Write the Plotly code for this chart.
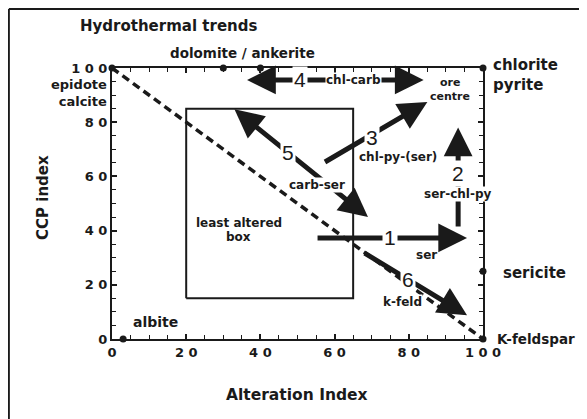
import plotly.graph_objects as go

# ---- data ----
x_ticks = [0, 20, 40, 60, 80, 100]
x_tick_labels = ["0", "2 0", "4 0", "6 0", "8 0", "1 0 0"]
y_ticks = [0, 20, 40, 60, 80, 100]
y_tick_labels = ["0", "2 0", "4 0", "6 0", "8 0", "1 0 0"]

end_member_x = [0, 30, 40, 100, 100, 3, 100]
end_member_y = [100, 100, 100, 100, 25, 0, 0]

box_x = [20, 65, 65, 20, 20]
box_y = [15, 15, 85, 85, 15]

diag_x = [0, 100]
diag_y = [100, 0]

trend_ids = ["1", "2", "3", "4", "5", "6"]
trend_names = ["ser", "ser-chl-py", "chl-py-(ser)", "chl-carb", "carb-ser", "k-feld"]
trend_x0 = [55, 93.3, 57, 36, 32.6, 67.7]
trend_y0 = [37.3, 41, 65, 95.6, 85.2, 32]
trend_x1 = [95.7, 93.3, 85, 84, 69, 95.7]
trend_y1 = [37.3, 78, 87.5, 95.6, 45, 8.8]
trend_both_ends = [False, False, False, True, True, False]

FONT = "DejaVu Sans"
NUMFONT = "Liberation Sans"
INK = "#1a1a1a"

fig = go.Figure()

# dashed diagonal
fig.add_trace(go.Scatter(x=diag_x, y=diag_y, mode="lines",
                         line=dict(color=INK, width=3.5, dash="8px,5px"),
                         hoverinfo="skip", showlegend=False))
# least altered box
fig.add_trace(go.Scatter(x=box_x, y=box_y, mode="lines",
                         line=dict(color=INK, width=2),
                         hoverinfo="skip", showlegend=False))
# end-member points
fig.add_trace(go.Scatter(x=end_member_x, y=end_member_y, mode="markers",
                         marker=dict(color=INK, size=7), cliponaxis=False,
                         hoverinfo="skip", showlegend=False))

annotations = []
# trend arrows
for i in range(len(trend_ids)):
    annotations.append(dict(
        x=trend_x1[i], y=trend_y1[i], ax=trend_x0[i], ay=trend_y0[i],
        xref="x", yref="y", axref="x", ayref="y", text="",
        showarrow=True, arrowhead=2, startarrowhead=2, arrowsize=1.15,
        startarrowsize=1.15, arrowwidth=5, arrowcolor=INK,
        arrowside="end+start" if trend_both_ends[i] else "end"))

num_pos = [(74.8, 37.3), (93.3, 61), (70, 74.5), (50.7, 95.6), (47.4, 69), (79.8, 22)]
name_pos = [(84.9, 31), (93.3, 53.5), (77, 67.2), (65, 95.6), (55.3, 57), (78.2, 13.7)]
for i in range(len(trend_ids)):
    annotations.append(dict(x=num_pos[i][0], y=num_pos[i][1], xref="x", yref="y",
                            text=trend_ids[i], showarrow=False, bgcolor="white",
                            borderpad=1, xanchor="center", yanchor="middle",
                            font=dict(family=NUMFONT, size=21, color=INK)))
    annotations.append(dict(x=name_pos[i][0], y=name_pos[i][1], xref="x", yref="y",
                            text=trend_names[i], showarrow=False, bgcolor="white",
                            borderpad=0, xanchor="center", yanchor="middle",
                            font=dict(family=FONT, size=12, color=INK, weight="bold")))

def lab(text, x, y, xanchor="center", size=12, align="center"):
    # positions given in axis units (0-100), placed in paper space so they are never hidden
    annotations.append(dict(x=x / 100.0, y=y / 100.0, xref="paper", yref="paper",
                            text=text, showarrow=False, xanchor=xanchor, yanchor="middle",
                            align=align, borderpad=0,
                            font=dict(family=FONT, size=size, color=INK, weight="bold")))

lab("dolomite / ankerite", 35.3, 105.5, size=13.5)
lab("epidote<br>calcite", -1.0, 90.6, xanchor="right", align="right", size=13)
lab("chlorite<br>pyrite", 102.5, 97.6, xanchor="left", align="left", size=15)
lab("ore", 91, 94.8, size=11)
lab("centre", 91, 89.3, size=11)
lab("sericite", 105.2, 24.4, xanchor="left", size=15)
lab("K-feldspar", 103.6, 0, xanchor="left", size=13.5)
lab("albite", 11.6, 6.4, size=14)
lab("least altered", 34.2, 42.8, size=12)
lab("box", 34.2, 37.6, size=12)

# title and axis titles
annotations.append(dict(x=-0.0916, y=1.155, xref="paper", yref="paper", xanchor="left",
                        yanchor="middle", text="Hydrothermal trends", showarrow=False,
                        font=dict(family=FONT, size=15, color=INK, weight="bold")))
annotations.append(dict(x=-0.186, y=0.524, xref="paper", yref="paper",
                        xanchor="center", yanchor="middle",
                        text="CCP index", showarrow=False, textangle=-90,
                        font=dict(family=FONT, size=15, color=INK, weight="bold")))
annotations.append(dict(x=0.499, y=-0.207, xref="paper", yref="paper",
                        xanchor="center", yanchor="middle",
                        text="Alteration Index", showarrow=False,
                        font=dict(family=FONT, size=15.5, color=INK, weight="bold")))

# outer frame (left and top edges)
shapes = [
    dict(type="line", xref="paper", yref="paper", x0=-0.278, x1=-0.278, y0=1.218, y1=-0.35,
         line=dict(color=INK, width=2)),
    dict(type="line", xref="paper", yref="paper", x0=-0.278, x1=1.4, y0=1.218, y1=1.218,
         line=dict(color=INK, width=2)),
]

axis_common = dict(showgrid=False, zeroline=False, showline=True, linecolor=INK,
                   linewidth=2, mirror="ticks", ticks="inside", ticklen=5,
                   tickwidth=1.5, tickcolor=INK,
                   tickfont=dict(family=FONT, size=13, color=INK, weight="bold"),
                   minor=dict(dtick=5, ticks="inside", ticklen=4, tickwidth=1, tickcolor=INK))

fig.update_xaxes(range=[0, 100], tickvals=x_ticks, ticktext=x_tick_labels, **axis_common)
fig.update_yaxes(range=[0, 100], tickvals=y_ticks, ticktext=y_tick_labels, **axis_common)

fig.update_layout(width=579, height=411, margin=dict(l=104, r=104, t=60, b=80),
                  paper_bgcolor="white", plot_bgcolor="white",
                  annotations=annotations, shapes=shapes, showlegend=False)

fig.write_html("out.html")
